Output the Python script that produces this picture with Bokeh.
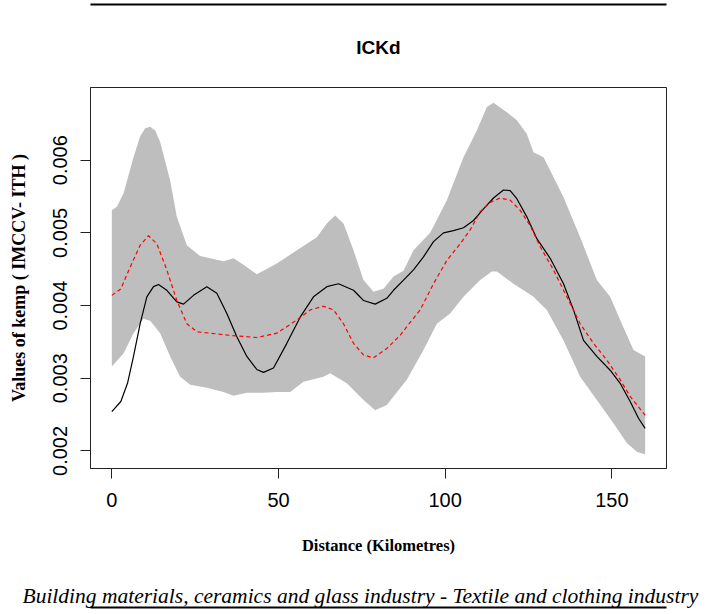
from bokeh.plotting import figure
from bokeh.models import Range1d, FixedTicker, LinearAxis, Title
from bokeh.embed import file_html
from bokeh.resources import INLINE

# ---- data ----
upper_x = [0, 1.5, 3.5, 6.5, 8.5, 10, 11.5, 13, 14.5, 17.5, 19.5, 22.5, 26.5, 33.5, 36.5,
           39.5, 43.5, 49.5, 55.5, 61.5, 64.5, 67, 69.5, 72.5, 75.5, 78.5, 81.5, 84.5,
           87.5, 90.5, 95.5, 100.5, 105.5, 109.5, 112.5, 114.5, 118.5, 121.5, 124.5,
           126.5, 129.5, 132.5, 135.5, 140.5, 145.5, 149.5, 152.5, 156.5, 160]
upper_y = [0.00531, 0.00536, 0.00554, 0.00604, 0.00633, 0.00644, 0.00646, 0.00641, 0.00625,
           0.00572, 0.00522, 0.00483, 0.00468, 0.00461, 0.00465, 0.00456, 0.00443, 0.00458,
           0.00476, 0.00494, 0.00513, 0.00524, 0.00513, 0.00476, 0.00435, 0.00419, 0.00423,
           0.00440, 0.00448, 0.00476, 0.00500, 0.00545, 0.00604, 0.00641, 0.00673, 0.00679,
           0.00666, 0.00655, 0.00636, 0.00611, 0.00604, 0.00577, 0.00549, 0.00494, 0.00435,
           0.00412, 0.00380, 0.00339, 0.00330]

lower_x = [0, 3.5, 6.5, 9.5, 11.5, 14.5, 17.5, 20.5, 23.5, 28.5, 33.5, 36.5, 40.5, 45.5,
           49.5, 53.5, 57.5, 63.5, 65.5, 70.5, 75.5, 79, 82.5, 84.5, 88.5, 93.5, 97.5,
           101.5, 105.5, 110.5, 114, 115.5, 120.5, 126.5, 130.5, 135.5, 140.5, 145.5,
           150.5, 154.5, 157.5, 160]
lower_y = [0.00316, 0.00334, 0.00362, 0.00382, 0.00379, 0.00362, 0.00330, 0.00302, 0.00291,
           0.00287, 0.00281, 0.00276, 0.00280, 0.00280, 0.00281, 0.00281, 0.00295, 0.00302,
           0.00307, 0.00293, 0.00270, 0.00256, 0.00263, 0.00275, 0.00298, 0.00339, 0.00375,
           0.00389, 0.00412, 0.00435, 0.00447, 0.00447, 0.00430, 0.00412, 0.00394, 0.00352,
           0.00302, 0.00270, 0.00238, 0.00211, 0.00199, 0.00195]

observed_x = [0, 2.7, 4.7, 6.5, 8.5, 10.5, 12.5, 14, 16.5, 19.5, 21.5, 24.5, 28.5, 31.5,
              34.5, 37.5, 40.5, 43.5, 45.5, 48.5, 52.5, 56.5, 60.5, 64.5, 68, 72.5, 75.5,
              79, 82.5, 84.5, 87.5, 90.5, 93.5, 96.5, 99.5, 102.5, 105.5, 108.5, 111.5,
              114.5, 117.5, 119.5, 121.5, 124.5, 127.5, 131.5, 135.5, 138.5, 141.5, 145.5,
              149.5, 152.5, 155.5, 158, 160]
observed_y = [0.00254, 0.00268, 0.00293, 0.00330, 0.00375, 0.00412, 0.00426, 0.00429, 0.00421,
              0.00405, 0.00402, 0.00414, 0.00426, 0.00417, 0.00389, 0.00357, 0.00330, 0.00312,
              0.00308, 0.00314, 0.00348, 0.00384, 0.00412, 0.00426, 0.00430, 0.00421, 0.00407,
              0.00402, 0.00410, 0.00421, 0.00435, 0.00449, 0.00467, 0.00488, 0.00500, 0.00503,
              0.00507, 0.00517, 0.00533, 0.00548, 0.00559, 0.00558, 0.00547, 0.00522, 0.00492,
              0.00465, 0.00430, 0.00394, 0.00352, 0.00330, 0.00311, 0.00293, 0.00268, 0.00245,
              0.00231]

expected_x = [0, 2.7, 5.5, 8.5, 11, 13.5, 16.5, 19.5, 22.5, 25.5, 29.5, 35.5, 43.5, 49.5,
              55.5, 59.5, 63.5, 66.5, 69.5, 72.5, 75.5, 78.5, 82.5, 86.5, 88.5, 92.5, 96.5,
              100.5, 104.5, 107.5, 110.5, 113.5, 116.5, 119.5, 122.5, 125.5, 128.5, 132.5,
              136.5, 140.5, 144.5, 148.5, 152.5, 155.5, 160]
expected_y = [0.00414, 0.00423, 0.00453, 0.00483, 0.00496, 0.00485, 0.00449, 0.00407, 0.00375,
              0.00364, 0.00362, 0.00359, 0.00356, 0.00362, 0.00380, 0.00394, 0.00399, 0.00394,
              0.00375, 0.00348, 0.00332, 0.00328, 0.00341, 0.00359, 0.00371, 0.00394, 0.00430,
              0.00462, 0.00485, 0.00504, 0.00529, 0.00542, 0.00548, 0.00545, 0.00531, 0.00510,
              0.00481, 0.00449, 0.00412, 0.00375, 0.00348, 0.00325, 0.00298, 0.00275, 0.00249]

x_ticks = [0, 50, 100, 150]
y_ticks = [0.002, 0.003, 0.004, 0.005, 0.006]
y_tick_labels = ["0.002", "0.003", "0.004", "0.005", "0.006"]

title_text = "ICKd"
x_label = "Distance (Kilometres)"
y_label = "Values of kemp ( IMCCV- ITH )"
caption = "Building materials, ceramics and glass industry - Textile and clothing industry"

# ---- figure ----
p = figure(width=720, height=614, output_backend="svg", toolbar_location=None,
           x_range=Range1d(-6.4, 166.4), y_range=Range1d(0.001758, 0.0070),
           min_border_left=90, min_border_right=54, min_border_top=87,
           min_border_bottom=146)
p.grid.visible = False
p.outline_line_color = "#222222"
p.outline_line_width = 1
p.background_fill_color = "white"
p.border_fill_color = "white"

band_x = upper_x + lower_x[::-1]
band_y = upper_y + lower_y[::-1]
p.patch(band_x, band_y, fill_color="#BEBEBE", line_color=None)
p.line(observed_x, observed_y, line_color="black", line_width=1.2)
p.line(expected_x, expected_y, line_color="red", line_width=1.2, line_dash="4 3")

for ax in (p.xaxis[0], p.yaxis[0]):
    ax.axis_line_color = "#222222"
    ax.major_tick_line_color = "#222222"
    ax.major_tick_out = 10
    ax.major_tick_in = 0
    ax.minor_tick_line_color = None
    ax.major_label_text_font = "Liberation Sans"
    ax.major_label_text_font_size = "20px"
    ax.major_label_text_color = "black"
    ax.axis_label_text_font = "Liberation Serif"
    ax.axis_label_text_font_style = "bold"
    ax.axis_label_text_color = "black"

p.xaxis.ticker = FixedTicker(ticks=x_ticks)
p.xaxis.major_label_standoff = 14
p.xaxis.axis_label = x_label
p.xaxis.axis_label_text_font_size = "16.5px"
p.xaxis.axis_label_standoff = 26

p.yaxis.ticker = FixedTicker(ticks=y_ticks)
p.yaxis.major_label_overrides = {t: s for t, s in zip(y_ticks, y_tick_labels)}
p.yaxis.major_label_orientation = "vertical"
p.yaxis.major_label_standoff = 13
p.yaxis.axis_label = y_label
p.yaxis.axis_label_text_font_size = "18px"
p.yaxis.axis_label_standoff = 22


def bare_axis(**kw):
    """An axis with no ticks and no tick labels (used for the page rules)."""
    return LinearAxis(ticker=FixedTicker(ticks=[]), minor_tick_line_color=None,
                      major_tick_line_color=None, major_tick_in=0, major_tick_out=0,
                      major_label_standoff=0, major_label_text_font_size="0px", **kw)


# title, then a page rule above it
title = Title(text=title_text, align="center", standoff=60, text_font="Liberation Sans",
              text_font_size="19px", text_font_style="bold", text_color="black")
p.add_layout(title, "above")
p.add_layout(bare_axis(bounds=(-34, 182.5), axis_line_color="black", axis_line_width=2),
             "above")

# caption below the chart (an empty first line gives the gap), then a page rule
cap = Title(text="\n" + caption, align="left", offset=-68, standoff=0,
            text_font="Liberation Serif", text_font_style="italic",
            text_font_size="21.5px", text_color="black")
p.add_layout(cap, "below")
p.add_layout(bare_axis(bounds=(-32, 181), axis_line_color="black", axis_line_width=2),
             "below")

open("out.html", "w").write(file_html(p, INLINE))
